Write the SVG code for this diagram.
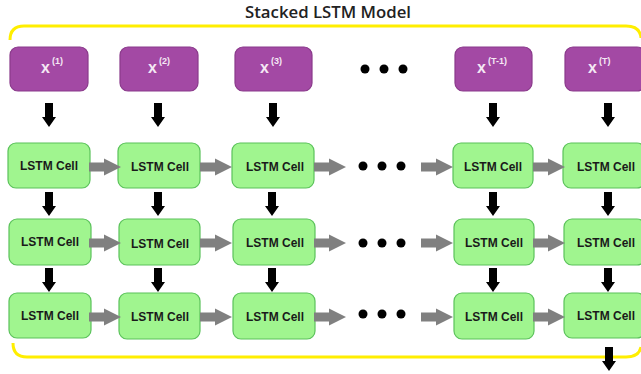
<svg xmlns="http://www.w3.org/2000/svg" xmlns:xlink="http://www.w3.org/1999/xlink" width="641" height="374" viewBox="0 0 641 374">
<style>
.frame{fill:none;stroke:#ffee00;stroke-width:3}
.in{fill:#a349a4;stroke:#8a3a8b;stroke-width:1.2}
.cell{fill:#a0f58f;stroke:#5bc25b;stroke-width:1.2}
.ct{font-family:"Liberation Sans",Arial,sans-serif;font-weight:bold;font-size:12px;fill:#1a1a1a;text-anchor:middle}
.xt{font-family:"Liberation Sans",Arial,sans-serif;font-weight:bold;font-size:16px;fill:#f4e8f4}
.st{font-size:9px}
.title{font-family:"Open Sans","Liberation Sans",sans-serif;font-weight:600;font-size:16px;fill:#222;text-anchor:middle}
.dot{fill:#000}
.ba{fill:#000}
.ga{fill:#808080}
</style>
<defs>
<path id="down" d="M-4,0 H4 V14 H7 L0,24 L-7,14 H-4 Z"/>
<path id="right" d="M0,-4.5 H15 V-8.5 L32,0 L15,8.5 V4.5 H0 Z"/>
</defs>
<text class="title" x="328" y="18" textLength="166" lengthAdjust="spacingAndGlyphs">Stacked LSTM Model</text>
<g id="frame">
<path class="frame" d="M10,40 Q10,26 24,26 L626,26 Q640,26 641,38"/>
<path class="frame" d="M13,343 Q13,357 27,357 L626,357 Q639,357 641,347"/>
</g>
<g id="inputs">
<g id="x1"><rect class="in" x="10" y="47" width="78" height="44" rx="8"/><text class="xt" x="41" y="73">x<tspan class="st" dx="2" dy="-9">(1)</tspan></text></g>
<g id="x2"><rect class="in" x="120" y="47" width="78" height="44" rx="8"/><text class="xt" x="148" y="73">x<tspan class="st" dx="2" dy="-9">(2)</tspan></text></g>
<g id="x3"><rect class="in" x="235" y="47" width="77" height="44" rx="8"/><text class="xt" x="260" y="73">x<tspan class="st" dx="2" dy="-9">(3)</tspan></text></g>
<g id="xT1"><rect class="in" x="455" y="47" width="77" height="44" rx="8"/><text class="xt" x="477" y="73">x<tspan class="st" dx="2" dy="-9">(T-1)</tspan></text></g>
<g id="xT"><rect class="in" x="565" y="47" width="80" height="44" rx="8"/><text class="xt" x="588" y="73">x<tspan class="st" dx="2" dy="-9">(T)</tspan></text></g>
</g>
<g id="dots">
<circle class="dot" cx="365" cy="69" r="4.5"/><circle class="dot" cx="384" cy="69" r="4.5"/><circle class="dot" cx="403" cy="69" r="4.5"/>
<circle class="dot" cx="363" cy="166" r="4.5"/><circle class="dot" cx="382" cy="166" r="4.5"/><circle class="dot" cx="401" cy="166" r="4.5"/>
<circle class="dot" cx="363" cy="243" r="4.5"/><circle class="dot" cx="382" cy="243" r="4.5"/><circle class="dot" cx="401" cy="243" r="4.5"/>
<circle class="dot" cx="363" cy="314" r="4.5"/><circle class="dot" cx="382" cy="314" r="4.5"/><circle class="dot" cx="401" cy="314" r="4.5"/>
</g>
<g id="cells">
<g id="c11"><rect class="cell" x="8" y="143" width="82" height="45" rx="8"/><text class="ct" x="49" y="170">LSTM Cell</text></g>
<g id="c12"><rect class="cell" x="118" y="143" width="82" height="45" rx="8"/><text class="ct" x="160" y="171">LSTM Cell</text></g>
<g id="c13"><rect class="cell" x="232" y="143" width="82" height="45" rx="8"/><text class="ct" x="275" y="171">LSTM Cell</text></g>
<g id="c14"><rect class="cell" x="453" y="143" width="80" height="45" rx="8"/><text class="ct" x="493" y="171">LSTM Cell</text></g>
<g id="c15"><rect class="cell" x="563" y="143" width="82" height="45" rx="8"/><text class="ct" x="606" y="171">LSTM Cell</text></g>
<g id="c21"><rect class="cell" x="9" y="219" width="82" height="46" rx="8"/><text class="ct" x="50" y="246">LSTM Cell</text></g>
<g id="c22"><rect class="cell" x="119" y="219" width="81" height="46" rx="8"/><text class="ct" x="160" y="248">LSTM Cell</text></g>
<g id="c23"><rect class="cell" x="233" y="219" width="82" height="46" rx="8"/><text class="ct" x="275" y="247">LSTM Cell</text></g>
<g id="c24"><rect class="cell" x="454" y="219" width="80" height="46" rx="8"/><text class="ct" x="494" y="247">LSTM Cell</text></g>
<g id="c25"><rect class="cell" x="564" y="219" width="81" height="46" rx="8"/><text class="ct" x="606" y="247">LSTM Cell</text></g>
<g id="c31"><rect class="cell" x="9" y="293" width="82" height="45" rx="8"/><text class="ct" x="50" y="320">LSTM Cell</text></g>
<g id="c32"><rect class="cell" x="119" y="293" width="81" height="46" rx="8"/><text class="ct" x="160" y="321">LSTM Cell</text></g>
<g id="c33"><rect class="cell" x="233" y="293" width="82" height="46" rx="8"/><text class="ct" x="275" y="321">LSTM Cell</text></g>
<g id="c34"><rect class="cell" x="454" y="293" width="80" height="46" rx="8"/><text class="ct" x="494" y="321">LSTM Cell</text></g>
<g id="c35"><rect class="cell" x="564" y="293" width="81" height="45" rx="8"/><text class="ct" x="606" y="320">LSTM Cell</text></g>
</g>
<g id="connectors">
<use class="ba" xlink:href="#down" x="49" y="103"/>
<use class="ba" xlink:href="#down" x="158" y="103"/>
<use class="ba" xlink:href="#down" x="273" y="103"/>
<use class="ba" xlink:href="#down" x="493" y="103"/>
<use class="ba" xlink:href="#down" x="608" y="103"/>
<use class="ba" xlink:href="#down" x="49" y="192"/>
<use class="ba" xlink:href="#down" x="158" y="192"/>
<use class="ba" xlink:href="#down" x="272" y="192"/>
<use class="ba" xlink:href="#down" x="493" y="192"/>
<use class="ba" xlink:href="#down" x="608" y="192"/>
<use class="ba" xlink:href="#down" x="49" y="268"/>
<use class="ba" xlink:href="#down" x="158" y="268"/>
<use class="ba" xlink:href="#down" x="272" y="268"/>
<use class="ba" xlink:href="#down" x="493" y="268"/>
<use class="ba" xlink:href="#down" x="608" y="268"/>
<use class="ba" xlink:href="#down" x="609" y="347"/>
<use class="ga" xlink:href="#right" x="89" y="167"/>
<use class="ga" xlink:href="#right" x="200" y="167"/>
<use class="ga" xlink:href="#right" x="314" y="167"/>
<use class="ga" xlink:href="#right" x="421" y="167"/>
<use class="ga" xlink:href="#right" x="533" y="167"/>
<use class="ga" xlink:href="#right" x="89" y="243"/>
<use class="ga" xlink:href="#right" x="200" y="243"/>
<use class="ga" xlink:href="#right" x="314" y="243"/>
<use class="ga" xlink:href="#right" x="421" y="243"/>
<use class="ga" xlink:href="#right" x="533" y="243"/>
<use class="ga" xlink:href="#right" x="89" y="317"/>
<use class="ga" xlink:href="#right" x="200" y="317"/>
<use class="ga" xlink:href="#right" x="314" y="317"/>
<use class="ga" xlink:href="#right" x="421" y="317"/>
<use class="ga" xlink:href="#right" x="533" y="317"/>
</g>
</svg>
